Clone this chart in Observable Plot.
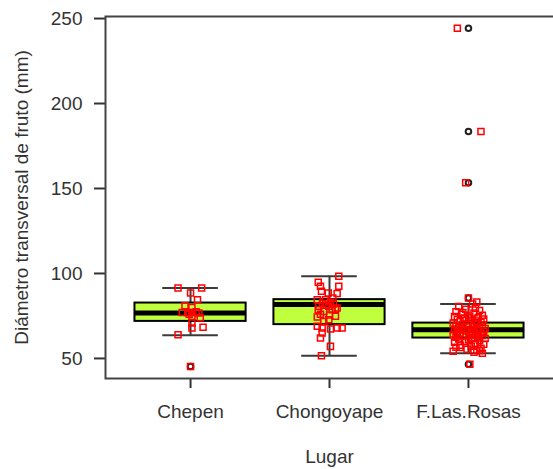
<!DOCTYPE html>
<html>
<head>
<meta charset="utf-8">
<script src="https://cdn.jsdelivr.net/npm/d3@7"></script>
<script src="https://cdn.jsdelivr.net/npm/@observablehq/plot@0.6"></script>
<style>
  html, body { margin: 0; padding: 0; background: white; }
</style>
</head>
<body>
<div id="chart"></div>
<script>
// Categories and box statistics
const categories = ["Chepen", "Chongoyape", "F.Las.Rosas"];
const q1 = [71.8, 69.9, 62.0];
const median = [76.7, 81.7, 66.9];
const q3 = [82.6, 84.6, 70.8];
const whiskerLow = [63.6, 51.6, 53.1];
const whiskerHigh = [91.5, 98.4, 82.0];

// Boxplot outliers (black circles)
const outlierCat = [0, 2, 2, 2, 2, 2];
const outlierVals = [45.3, 46.6, 85.6, 153.4, 183.5, 244.3];

// Raw observations (red squares), with horizontal jitter in category units
const chepenVals = [91.5, 91.5, 88.5, 84.6, 81.0, 80.0, 77.0, 77.0, 77.0, 77.5, 76.0, 76.7, 74.8, 74.0, 70.8, 68.3, 67.9, 64.0, 45.3];
const chepenJit = [-0.09, 0.08, 0.0, 0.05, -0.04, 0.01, -0.06, -0.02, 0.01, 0.04, -0.01, 0.06, 0.01, 0.07, 0.01, 0.09, 0.01, -0.09, 0.0];

const chongoVals = [98.4, 94.8, 92.5, 92.5, 89.5, 88.5, 88.2, 85.6, 84.6, 84.6, 80.7, 80.7, 78.9, 77.7, 79.7, 78.7, 78.7, 74.4, 72.8, 74.8, 71.8, 68.9, 67.3, 67.9, 67.9, 67.9, 65.0, 62.0, 57.1, 51.6, 82.5, 83.0, 81.5, 82.0, 76.0, 75.5];
const chongoJit = [0.067, -0.081, -0.065, 0.067, -0.058, -0.009, 0.055, 0.024, -0.088, -0.029, -0.077, -0.005, 0.043, -0.041, 0.055, -0.081, 0.019, -0.088, -0.005, 0.043, -0.041, -0.088, 0.007, -0.053, 0.055, 0.091, -0.053, -0.065, 0.007, -0.058, -0.05, 0.007, -0.022, 0.029, -0.065, 0.0];

const rosasVals = [85.6, 83.2, 82.0, 80.5, 79.0, 78.2, 77.5, 76.8, 76.0, 75.4,
  75.0, 74.6, 74.1, 73.8, 73.2, 72.9, 72.5, 72.0, 71.7, 71.3,
  70.9, 70.5, 70.2, 69.8, 69.5, 69.1, 68.8, 68.5, 68.2, 67.9,
  67.6, 67.3, 67.0, 66.8, 66.5, 66.2, 65.9, 65.6, 65.3, 65.0,
  64.7, 64.4, 64.1, 63.8, 63.5, 63.2, 62.9, 62.5, 62.1, 61.8,
  61.4, 61.0, 60.5, 60.0, 59.5, 59.0, 58.4, 57.8, 57.2, 56.6,
  56.0, 55.4, 54.8, 54.2, 53.6, 53.1, 46.6, 153.4, 183.5, 244.3,
  79.5, 77.0, 74.0, 71.0, 68.0, 66.0, 64.0, 62.0, 60.0, 58.0, 56.5, 54.5];
const rosasJit = [0.0, 0.06, 0.03, -0.07, -0.02, 0.08, -0.09, 0.04, -0.05, 0.1,
  0.01, -0.1, 0.07, -0.03, 0.11, -0.08, 0.02, 0.05, -0.06, 0.09,
  -0.11, 0.0, 0.06, -0.04, 0.1, -0.09, 0.03, -0.01, 0.08, -0.07,
  0.12, -0.05, 0.04, -0.1, 0.07, -0.02, 0.11, -0.08, 0.01, 0.09,
  -0.06, 0.05, -0.11, 0.02, 0.1, -0.04, 0.07, -0.09, 0.03, 0.12,
  -0.07, 0.0, 0.08, -0.03, -0.1, 0.05, 0.11, -0.06, 0.02, -0.09,
  0.09, -0.01, 0.06, -0.11, 0.04, 0.1, 0.01, -0.02, 0.09, -0.08,
  0.05, -0.04, 0.0, 0.06, -0.05, 0.03, -0.08, 0.07, -0.02, 0.04, -0.06, 0.08];

const yTicks = [50, 100, 150, 200, 250];

// Build tables
const stats = categories.map((c, k) => ({
  i: k + 1, q1: q1[k], med: median[k], q3: q3[k], lo: whiskerLow[k], hi: whiskerHigh[k]
}));
const outliers = outlierVals.map((v, k) => ({i: outlierCat[k] + 1, v}));
const points = [];
[[chepenVals, chepenJit], [chongoVals, chongoJit], [rosasVals, rosasJit]].forEach(([vals, jit], k) => {
  vals.forEach((v, n) => points.push({i: k + 1, j: jit[n], v}));
});

const chart = Plot.plot({
  width: 553,
  height: 469,
  marginLeft: 105,
  marginRight: 0,
  marginTop: 16,
  marginBottom: 91,
  style: {fontFamily: "'Liberation Sans', Arial, sans-serif", fontSize: "19px", color: "#333", background: "white"},
  x: {domain: [0.388, 3.612]},
  y: {domain: [38.2, 251.2]},
  marks: [
    Plot.axisY({ticks: yTicks, tickSize: 11, tickPadding: 12, strokeWidth: 2,
      label: "Diámetro transversal de fruto (mm)", labelAnchor: "center", labelOffset: 91, labelArrow: "none"}),
    Plot.axisX({ticks: [1, 2, 3], tickFormat: i => categories[i - 1], tickSize: 10, tickPadding: 16, strokeWidth: 2,
      label: "Lugar", labelAnchor: "center", labelOffset: 84, labelArrow: "none"}),
    Plot.ruleX(stats, {x: "i", y1: "lo", y2: "q1", stroke: "#3a3a3a", strokeWidth: 2}),
    Plot.ruleX(stats, {x: "i", y1: "q3", y2: "hi", stroke: "#3a3a3a", strokeWidth: 2}),
    Plot.ruleY(stats, {y: "lo", x1: d => d.i - 0.2, x2: d => d.i + 0.2, stroke: "#3a3a3a", strokeWidth: 2}),
    Plot.ruleY(stats, {y: "hi", x1: d => d.i - 0.2, x2: d => d.i + 0.2, stroke: "#3a3a3a", strokeWidth: 2}),
    Plot.rect(stats, {x1: d => d.i - 0.4, x2: d => d.i + 0.4, y1: "q1", y2: "q3", fill: "#c0ff3e", stroke: "black", strokeWidth: 2}),
    Plot.ruleY(stats, {y: "med", x1: d => d.i - 0.4, x2: d => d.i + 0.4, stroke: "black", strokeWidth: 5}),
    Plot.dot(outliers, {x: "i", y: "v", r: 2.8, stroke: "#222", strokeWidth: 2}),
    Plot.dot(points, {x: d => d.i + d.j, y: "v", symbol: "square", r: 3.4, stroke: "red", strokeWidth: 1.5}),
    Plot.frame({stroke: "#444", strokeWidth: 2, insetRight: -4})
  ]
});
document.getElementById("chart").append(chart);
</script>
</body>
</html>
